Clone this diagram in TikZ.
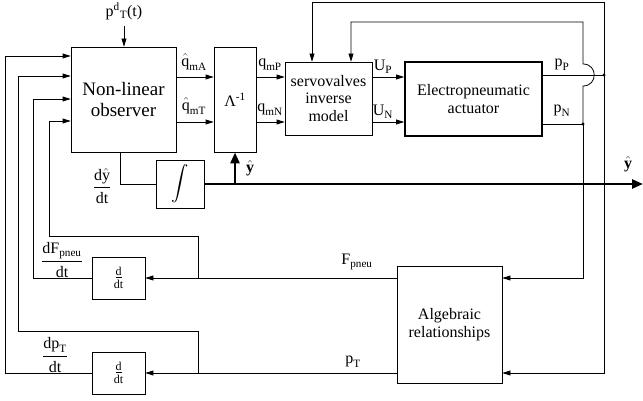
\documentclass[tikz,border=0pt]{standalone}
\usepackage{amsmath}
\usepackage{fontspec}
\setmainfont{Liberation Serif}
\usetikzlibrary{positioning, arrows.meta, calc}

\newcommand{\tx}[1]{\text{#1}}

\begin{document}
\begin{tikzpicture}[
    x=1pt, y=-1pt,
    font=\fontsize{16}{17.5}\selectfont,
    >={Triangle[length=8pt, width=5pt]},
    line width=0.8pt,
    block/.style={
        draw, line width=0.8pt, align=center, inner sep=2pt,
    },
    lbl/.style={inner sep=0pt},
    arr/.style={->},
    sig/.style={line width=2.5pt, -{Triangle[length=11pt, width=9pt]}},
]
\useasboundingbox (0,0) rectangle (643,401);

% --- Blocks -------------------------------------------------
\node[block, minimum width=105pt, minimum height=105pt,
      font=\fontsize{19}{21}\selectfont] (obs) at (123.5,99.5) {Non-linear\\observer};
\node[block, minimum width=42pt, minimum height=105pt] (lam) at (235,99.5) {$\tx{Λ}^{\tx{-1}}$};
\node[block, minimum width=87pt, minimum height=73pt] (servo) at (328.5,98.5) {servovalves\\inverse\\model};
\node[block, line width=1.8pt, minimum width=137pt, minimum height=74pt] (act) at (473.5,99) {Electropneumatic\\actuator};
\node[block, minimum width=48pt, minimum height=48pt] (integ) at (180,184) {$\displaystyle\int$};
\node[block, minimum width=53pt, minimum height=42pt,
      font=\fontsize{12}{13}\selectfont] (ddt1) at (118.5,278) {\underline{d}\\dt};
\node[block, minimum width=53pt, minimum height=42pt,
      font=\fontsize{12}{13}\selectfont] (ddt2) at (118.5,373) {\underline{d}\\dt};
\node[block, minimum width=105pt, minimum height=117pt] (alg) at (449.5,324.5) {Algebraic\\relationships};

% --- Labels -------------------------------------------------
\node[lbl] (pd) at (124,11) {$\tx{p}^{\tx{d}}{}_{\tx{T}}\tx{(t)}$};
\node[lbl] (qA) at (194,62) {$\hat{\tx{q}}_{\tx{mA}}$};
\node[lbl] (qT) at (194,106) {$\hat{\tx{q}}_{\tx{mT}}$};
\node[lbl] (qP) at (270,65) {$\tx{q}_{\tx{mP}}$};
\node[lbl] (qN) at (270,110) {$\tx{q}_{\tx{mN}}$};
\node[lbl] (UP) at (383,67) {$\tx{U}_{\tx{P}}$};
\node[lbl] (UN) at (383,112) {$\tx{U}_{\tx{N}}$};
\node[lbl] (pP) at (562,65) {$\tx{p}_{\tx{P}}$};
\node[lbl] (pN) at (562,111) {$\tx{p}_{\tx{N}}$};
\node[lbl] (yh1) at (250,168) {$\hat{\textbf{y}}$};
\node[lbl] (yh2) at (628,164) {$\hat{\textbf{y}}$};
\node[lbl] (dy) at (102,186) {$\dfrac{\tx{d}\hat{\tx{y}}}{\tx{dt}}$};
\node[lbl] (dF) at (62,260) {$\dfrac{\tx{dF}_{\tx{pneu}}}{\tx{dt}}$};
\node[lbl] (dp) at (55,355) {$\dfrac{\tx{dp}_{\tx{T}}}{\tx{dt}}$};
\node[lbl] (Fp) at (357,262) {$\tx{F}_{\tx{pneu}}$};
\node[lbl] (pT) at (353,362) {$\tx{p}_{\tx{T}}$};

% --- Forward path -------------------------------------------
\coordinate (ra) at (0,77);
\coordinate (rb) at (0,122);
\draw[arr] (pd.south) ++(0,6) -- (pd |- obs.north);
\draw[arr] (obs.east |- ra) -- (lam.west |- ra);
\draw[arr] (obs.east |- rb) -- (lam.west |- rb);
\draw[arr] (lam.east |- ra) -- (servo.west |- ra);
\draw[arr] (lam.east |- rb) -- (servo.west |- rb);
\draw[arr] (servo.east |- ra) -- (act.west |- ra);
\draw[arr] (servo.east |- rb) -- (act.west |- rb);

% --- Estimated output ---------------------------------------
\coordinate (yend) at (643,184);
\draw (obs.south) ++(-3,0) |- (integ.west);
\draw[sig] (integ.east) -- (yend);
\draw[sig] (lam.south |- integ.east) -- (lam.south);

% --- Pressure feedback --------------------------------------
\coordinate (jP) at (604,75);
\coordinate (jN) at (583,124);
\coordinate (topo) at (312,2);
\coordinate (topi) at (351,22);
\coordinate (hopB) at (583,86);
\coordinate (hopT) at (583,64);
\draw (act.east |- jP) -- (jP);
\draw (act.east |- jN) -- (jN);
\fill (jP) circle (1.6pt);
\fill (jN) circle (1.6pt);
\draw[arr] (jP) -- (jP |- topo) -- (topo) -- (topo |- servo.north);
\draw[arr] (jN) -- (hopB) .. controls ($(hopB)+(15,0)$) and ($(hopT)+(15,0)$) .. (hopT)
    -- (jN |- topi) -- (topi) -- (topi |- servo.north);
\draw[arr] (jP) |- (alg.east |- ddt2);
\draw[arr] (jN) |- (alg.east |- ddt1);

% --- Observer inputs ----------------------------------------
\coordinate (jF) at (198,278);
\coordinate (jT) at (198,373);
\coordinate (kd) at (198,236);
\coordinate (kb) at (198,331);
\coordinate (la) at (5,56);
\coordinate (lb) at (18,76);
\coordinate (lc) at (33,99);
\coordinate (ld) at (49,121);
\draw[arr] (alg.west |- ddt1) -- (ddt1.east);
\draw[arr] (alg.west |- ddt2) -- (ddt2.east);
\draw[arr] (ddt2.west) -| (la) -- (obs.west |- la);
\draw[arr] (jT) -- (kb) -| (lb) -- (obs.west |- lb);
\draw[arr] (ddt1.west) -| (lc) -- (obs.west |- lc);
\draw[arr] (jF) -- (kd) -| (ld) -- (obs.west |- ld);

\end{tikzpicture}
\end{document}
